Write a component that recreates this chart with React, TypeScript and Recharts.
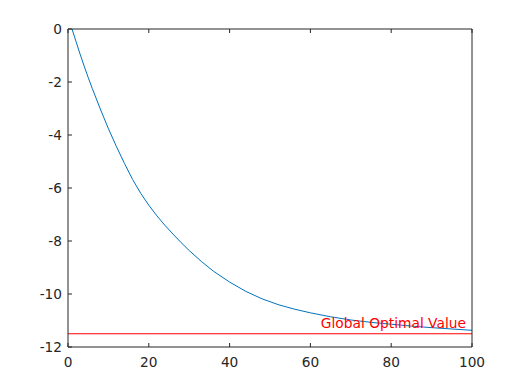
import React from 'react';
import {
  LineChart,
  Line,
  XAxis,
  YAxis,
  ReferenceLine,
} from 'recharts';

// iteration index and objective value
const iterations = [1, 2, 3, 4, 5, 6, 8, 10, 12, 14, 16, 18, 20, 22, 24, 26, 28, 30, 33, 36, 40, 44, 48, 52, 56, 60, 65, 70, 75, 80, 85, 90, 95, 100];
const objective = [
  0, -0.48, -0.95, -1.4, -1.83, -2.24, -3.02, -3.76, -4.44, -5.08, -5.68, -6.2, -6.65, -7.05,
  -7.41, -7.74, -8.06, -8.36, -8.77, -9.14, -9.55, -9.9, -10.18, -10.4, -10.57, -10.71, -10.86,
  -10.98, -11.07, -11.14, -11.21, -11.27, -11.32, -11.37,
];
const globalOptimum = -11.5;
const optimumLabel = 'Global Optimal Value';

const xTicks = [0, 20, 40, 60, 80, 100];
const yTicks = [-12, -10, -8, -6, -4, -2, 0];

const data = iterations.map((it, i) => ({ it, value: objective[i] }));

const FONT = '"DejaVu Sans", sans-serif';
const tickStyle = { fontSize: 13.7, fill: '#262626', fontFamily: FONT };
const axisStroke = '#262626';

export default function App() {
  return (
    <div style={{ position: 'absolute', left: 0, top: 0, width: 521, height: 391, background: '#fff' }}>
      <LineChart
        width={521}
        height={391}
        data={data}
        margin={{ top: 28, right: 48, left: 8, bottom: 14 }}
      >
        <XAxis
          dataKey="it"
          type="number"
          domain={[0, 100]}
          ticks={xTicks}
          tickSize={-4}
          tickMargin={14}
          height={30}
          stroke={axisStroke}
          tick={tickStyle}
          interval={0}
        />
        {/* mirrored box edge with inward ticks, no labels */}
        <XAxis
          xAxisId="top"
          orientation="top"
          dataKey="it"
          type="number"
          domain={[0, 100]}
          ticks={xTicks}
          tickSize={-4}
          height={1}
          stroke={axisStroke}
          tick={{ fill: 'none' }}
          interval={0}
        />
        <YAxis
          type="number"
          domain={[-12, 0]}
          ticks={yTicks}
          tickSize={-4}
          tickMargin={10}
          width={60}
          stroke={axisStroke}
          tick={tickStyle}
          interval={0}
        />
        <YAxis
          yAxisId="right"
          orientation="right"
          type="number"
          domain={[-12, 0]}
          ticks={yTicks}
          tickSize={-4}
          width={1}
          stroke={axisStroke}
          tick={{ fill: 'none' }}
          interval={0}
        />
        <ReferenceLine
          y={globalOptimum}
          stroke="#ff0000"
          strokeWidth={1}
          label={{
            value: optimumLabel,
            position: 'insideBottomRight',
            offset: 6,
            fill: '#ff0000',
            fontSize: 13.8,
            fontFamily: FONT,
          }}
        />
        <Line
          dataKey="value"
          stroke="#0072bd"
          strokeWidth={1}
          dot={false}
          type="linear"
          isAnimationActive={false}
        />
      </LineChart>
    </div>
  );
}
